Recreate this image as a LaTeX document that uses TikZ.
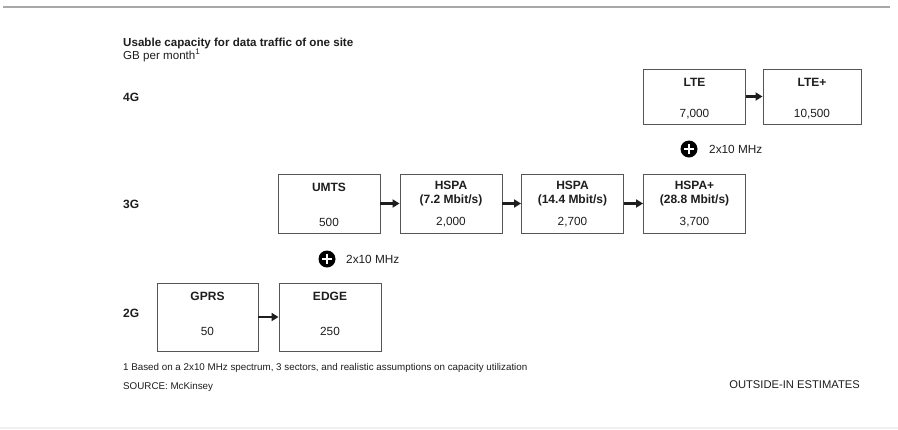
\documentclass[tikz,border=0pt]{standalone}
\usepackage{fontspec}
\setmainfont{Liberation Sans}
\usetikzlibrary{arrows.meta,calc}
\definecolor{ink}{HTML}{1E1E1E}
\definecolor{boxline}{HTML}{555555}
\definecolor{rule}{HTML}{A8A8A8}
\tikzset{
  capbox/.style={draw=boxline, line width=0.9pt, minimum width=102pt, inner sep=0pt},
  head/.style={font=\fontsize{12}{13.5}\selectfont\bfseries, text=ink, align=center, inner sep=0pt},
  val/.style={font=\fontsize{11.8}{13}\selectfont, text=ink, inner sep=0pt},
  gen/.style={font=\fontsize{12}{13}\selectfont\bfseries, text=ink, anchor=west, inner sep=0pt},
  link/.style={line width=2.3pt, -{Triangle[length=7pt,width=8pt]}, ink},
  plusdot/.style={circle, fill=black, minimum size=17pt, inner sep=0pt},
  small/.style={font=\fontsize{9.8}{11}\selectfont, text=ink, anchor=west, inner sep=0pt},
}
\begin{document}
\begin{tikzpicture}[x=1pt,y=-1pt]
\useasboundingbox (0,0) rectangle (898,429);
\fill[white] (0,0) rectangle (898,429);
% top rule
\coordinate (r1) at (3,7);
\coordinate (r2) at (890,7);
\draw[rule, line width=1.2pt] (r1) -- (r2);
% bottom faint rule
\coordinate (b1) at (0,428);
\coordinate (b2) at (898,428);
\draw[black!6, line width=1.5pt] (b1) -- (b2);

% title
\node[font=\fontsize{11.6}{13}\selectfont\bfseries, text=ink, anchor=west, inner sep=0pt] (title) at (123,43) {Usable capacity for data traffic of one site};
\node[font=\fontsize{11.6}{13}\selectfont, text=ink, anchor=west, inner sep=0pt] (unit) at (123,55.5) {GB per month\textsuperscript{1}};

% generation labels
\node[gen] (g4) at (123,97) {4G};
\node[gen] (g3) at (123,204) {3G};
\node[gen] (g2) at (123,313) {2G};

% 4G boxes
\node[capbox, minimum height=55pt] (lte) at (694.5,96.5) {};
\node[capbox, minimum height=55pt, minimum width=98pt] (ltep) at (812,96.5) {};
\node[head] (lteh) at (694.5,82) {LTE};
\node[val] (ltev) at (694.5,114) {7,000};
\node[head] (ltepH) at (812,82) {LTE+};
\node[val] (ltepv) at (812,114) {10,500};
\draw[link] (lte) -- (ltep);

% 3G boxes
\node[capbox, minimum height=59pt] (umts) at (329,203.5) {};
\node[capbox, minimum height=59pt] (hspa1) at (451,203.5) {};
\node[capbox, minimum height=59pt] (hspa2) at (572.5,203.5) {};
\node[capbox, minimum height=59pt] (hspap) at (694.5,203.5) {};
\node[head] (umtsh) at (329,187) {UMTS};
\node[val] (umtsv) at (329,222) {500};
\node[head] (hspa1h) at (451,193.5) {HSPA\\(7.2 Mbit/s)};
\node[val] (hspa1v) at (451,222) {2,000};
\node[head] (hspa2h) at (572.5,193.5) {HSPA\\(14.4 Mbit/s)};
\node[val] (hspa2v) at (572.5,222) {2,700};
\node[head] (hspaph) at (694.5,193.5) {HSPA+\\(28.8 Mbit/s)};
\node[val] (hspapv) at (694.5,222) {3,700};
\draw[link] (umts) -- (hspa1);
\draw[link] (hspa1) -- (hspa2);
\draw[link] (hspa2) -- (hspap);

% 2G boxes
\node[capbox, minimum height=68pt, minimum width=101pt] (gprs) at (207.5,317) {};
\node[capbox, minimum height=68pt] (edge) at (330,317) {};
\node[head] (gprsh) at (207.5,296) {GPRS};
\node[val] (gprsv) at (207.5,331) {50};
\node[head] (edgeh) at (330,296) {EDGE};
\node[val] (edgev) at (330,331) {250};
\draw[link] (gprs) -- (edge);

% plus markers
\node[plusdot] (p1) at (689,149) {};
\draw[white, line width=2.6pt] ($(p1)+(-4.8,0)$) -- ($(p1)+(4.8,0)$);
\draw[white, line width=2.6pt] ($(p1)+(0,-4.8)$) -- ($(p1)+(0,4.8)$);
\node[val, anchor=west] (p1t) at (709,149) {2x10 MHz};
\node[plusdot] (p2) at (327,259) {};
\draw[white, line width=2.6pt] ($(p2)+(-4.8,0)$) -- ($(p2)+(4.8,0)$);
\draw[white, line width=2.6pt] ($(p2)+(0,-4.8)$) -- ($(p2)+(0,4.8)$);
\node[val, anchor=west] (p2t) at (346,259) {2x10 MHz};

% footnotes
\node[small] (fn) at (123,368) {1 Based on a 2x10 MHz spectrum, 3 sectors, and realistic assumptions on capacity utilization};
\node[small] (src) at (123,387) {SOURCE: McKinsey};
\node[font=\fontsize{11.2}{12}\selectfont, text=ink, anchor=east, inner sep=0pt] (oie) at (860,385) {OUTSIDE-IN ESTIMATES};
\end{tikzpicture}
\end{document}
